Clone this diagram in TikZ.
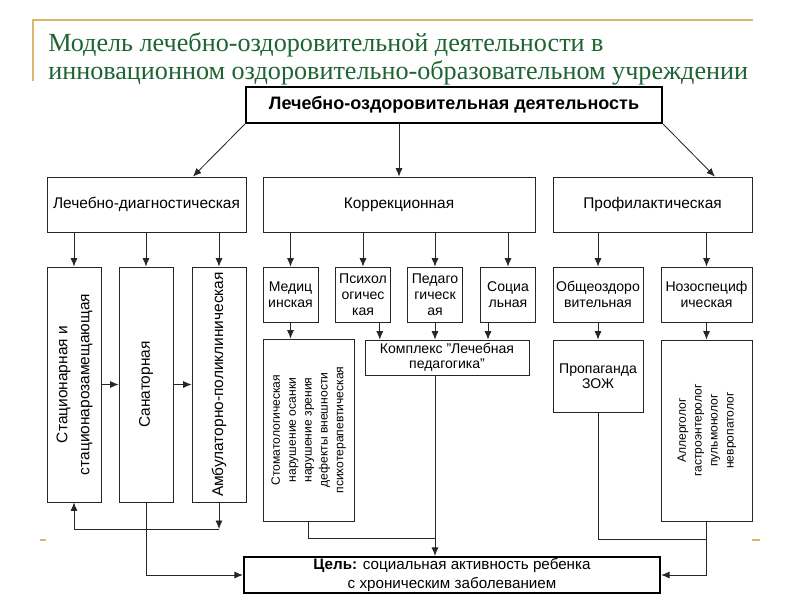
\documentclass[tikz,border=0pt]{standalone}
\usepackage{fontspec}
\setmainfont{Liberation Sans}
\newfontfamily\zagfont{Liberation Serif}
\usetikzlibrary{arrows.meta}
\definecolor{zagcol}{RGB}{30,100,50}
\definecolor{goldline}{RGB}{215,185,105}

\begin{document}
\begin{tikzpicture}[x=0.025cm, y=-0.025cm,
        box/.style={draw=black!85, line width=0.6pt, rectangle, inner sep=1pt, align=center},
        mainbox/.style={box, draw=black, line width=1.6pt},
        bigtxt/.style={font=\fontsize{11}{15.5}\selectfont},
        smalltxt/.style={font=\fontsize{10}{11.3}\selectfont},
        tinytxt/.style={font=\fontsize{8.6}{11.3}\selectfont},
        ln/.style={draw=black!85, line width=0.6pt},
        arr/.style={ln, -{Latex[length=6pt,width=5pt]}}]
        \useasboundingbox (0,0) rectangle (800,600);
        \draw[goldline, line width=1.4pt] (33,81) -- (33,20) -- (753,20);
        \draw[goldline, line width=1.4pt] (40,540) -- (46,540);
        \draw[goldline, line width=1.4pt] (752,540) -- (760,540);
        \node[anchor=north west, align=left, inner sep=0pt, text=zagcol,
            font=\zagfont\fontsize{18.6}{20.5}\selectfont] (zag) at (48,32)
            {Модель лечебно-оздоровительной деятельности в\\инновационном оздоровительно-образовательном учреждении};

        \node[mainbox, minimum width=10.4cm, minimum height=0.9cm, font=\bfseries\fontsize{12.8}{14}\selectfont] (top) at (454,105) {Лечебно-оздоровительная деятельность};

        \node[box, bigtxt, minimum width=4.975cm, minimum height=1.375cm] (ld) at (146.5,204.5) {Лечебно-диагностическая};
        \node[box, bigtxt, minimum width=6.8cm, minimum height=1.375cm] (kor) at (399,204.5) {Коррекционная};
        \node[box, bigtxt, minimum width=4.975cm, minimum height=1.375cm] (prof) at (652.5,204.5) {Профилактическая};

        \node[box, bigtxt, minimum width=1.35cm, minimum height=5.875cm] (stat) at (74,384.5)
            {\rotatebox{90}{\begin{tabular}{@{}c@{}}Стационарная и\\стационарозамещающая\end{tabular}}};
        \node[box, bigtxt, minimum width=1.35cm, minimum height=5.875cm] (san) at (146,384.5) {\rotatebox{90}{Санаторная}};
        \node[box, bigtxt, minimum width=1.35cm, minimum height=5.875cm] (amb) at (219,384.5) {\rotatebox{90}{Амбулаторно-поликлиническая}};

        \node[box, smalltxt, minimum width=1.375cm, minimum height=1.375cm] (med) at (290.5,294.5) {Медиц\\инская};
        \node[box, smalltxt, minimum width=1.375cm, minimum height=1.375cm] (psy) at (363,294.5) {Психол\\огичес\\кая};
        \node[box, smalltxt, minimum width=1.375cm, minimum height=1.375cm] (ped) at (435,294.5) {Педаго\\гическ\\ая};
        \node[box, smalltxt, minimum width=1.375cm, minimum height=1.375cm] (soc) at (508,294.5) {Социа\\льная};

        \node[box, tinytxt, minimum width=2.275cm, minimum height=4.55cm] (stom) at (308.5,430)
            {\rotatebox{90}{\begin{tabular}{@{}c@{}}Стоматологическая\\нарушение осанки\\нарушение зрения\\дефекты внешности\\психотерапевтическая\end{tabular}}};
        \node[box, minimum width=4.1cm, minimum height=0.875cm, font=\fontsize{10}{10.8}\selectfont] (kompl) at (447,357.5) {Комплекс "Лечебная\\педагогика"};

        \node[box, smalltxt, minimum width=2.25cm, minimum height=1.375cm] (obsh) at (598,294.5) {Общеоздоро\\вительная};
        \node[box, smalltxt, minimum width=2.275cm, minimum height=1.375cm] (nozo) at (706.5,294.5) {Нозоспециф\\ическая};
        \node[box, minimum width=2.25cm, minimum height=1.8cm, font=\fontsize{10}{10.8}\selectfont] (prop) at (598,376) {Пропаганда\\ЗОЖ};
        \node[box, tinytxt, minimum width=2.275cm, minimum height=4.525cm] (allerg) at (706.5,430.5)
            {\rotatebox{90}{\begin{tabular}{@{}c@{}}Аллерголог\\гастроэнтеролог\\пульмонолог\\невропатолог\end{tabular}}};

        \node[mainbox, minimum width=10.4cm, minimum height=0.9cm, font=\fontsize{10.8}{13.4}\selectfont] (goal) at (452,575)
            {\textbf{Цель:} социальная активность ребенка\\с хроническим заболеванием};

        \draw[arr] (top.south west) -- ([xshift=1.16cm]ld.north);
        \draw[arr] (top.south -| kor.north) -- (kor.north);
        \draw[arr] (top.south east) -- ([xshift=1.56cm]prof.north);

        \draw[arr] (ld.south -| stat.north) -- (stat.north);
        \draw[arr] (ld.south -| san.north) -- (san.north);
        \draw[arr] (ld.south -| amb.north) -- (amb.north);
        \draw[arr] (stat) -- (san);
        \draw[arr] (san) -- (amb);
        \coordinate (fb) at (219,529);
        \draw[arr] (amb.south) -- (fb);
        \draw[arr] (fb) -| (stat.south);
        \draw[arr] (san.south) |- (goal.west);

        \draw[arr] (kor.south -| med.north) -- (med.north);
        \draw[arr] (kor.south -| psy.north) -- (psy.north);
        \draw[arr] (kor.south -| ped.north) -- (ped.north);
        \draw[arr] (kor.south -| soc.north) -- (soc.north);
        \draw[arr] (med.south) -- (med.south |- stom.north);
        \draw[arr] ([xshift=0.42cm]psy.south) -- ([xshift=0.42cm]psy.south |- kompl.north);
        \draw[arr] (ped.south) -- (ped.south |- kompl.north);
        \draw[arr] ([xshift=-0.5cm]soc.south) -- ([xshift=-0.5cm]soc.south |- kompl.north);
        \coordinate (kj) at (435,538);
        \draw[ln] (stom.south) |- (kj);
        \draw[arr] (kompl.south -| kj) -- (kj |- goal.north);

        \draw[arr] (prof.south -| obsh.north) -- (obsh.north);
        \draw[arr] (prof.south -| nozo.north) -- (nozo.north);
        \draw[arr] (obsh) -- (prop);
        \draw[arr] (nozo) -- (allerg);
        \coordinate (pj) at (706.5,539);
        \draw[ln] (prop.south) |- (pj);
        \draw[arr] (allerg.south) |- (goal.east);
\end{tikzpicture}
\end{document}
